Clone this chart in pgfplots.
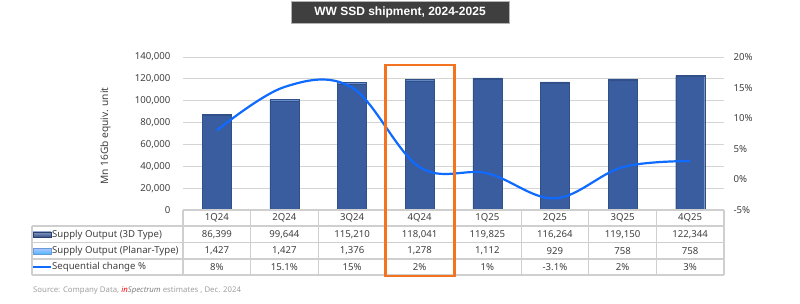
\documentclass[border=0pt]{standalone}
\usepackage{pgfplots}
\pgfplotsset{compat=1.18}
\usepackage{fontspec}
\setmainfont{Noto Sans}
\newfontfamily\titlefont{Liberation Sans}
\definecolor{barblue}{HTML}{3A5DA0}
\definecolor{bartop}{HTML}{6A8DCB}
\definecolor{lineblue}{HTML}{0F6BFF}
\definecolor{gridgray}{HTML}{D4D4D4}
\definecolor{tabgray}{HTML}{CFCFCF}
\definecolor{txt}{HTML}{404040}
\definecolor{orng}{HTML}{F47320}
\definecolor{titlebg}{HTML}{3F3F3F}
\pgfplotstableread{
x d3 planar seq
0 86399 1427 8
1 99644 1427 15.1
2 115210 1376 15
3 118041 1278 2
4 119825 1112 1
5 116264 929 -3.1
6 119150 758 2
7 122344 758 3
}\datatab
\newcommand{\tf}{\fontsize{9.6}{11}\selectfont}
\begin{document}
\begin{tikzpicture}[x=1pt,y=1pt]
\useasboundingbox (0,0) rectangle (800,303);
% title
\node[fill=titlebg, draw=gray!60, text=white, font=\titlefont\bfseries\fontsize{12}{14}\selectfont,
  minimum width=218pt, minimum height=22pt, inner sep=0pt] at (400,{303-12}) {WW SSD shipment, 2024-2025};
% bars axis
\begin{axis}[at={(183pt,93pt)}, anchor=south west, scale only axis,
  width=541pt, height=153pt, xmin=-0.5, xmax=7.5, ymin=0, ymax=140000,
  ybar stacked, bar width=29pt, axis line style={draw=none},
  scaled y ticks=false,
  ytick={0,20000,40000,60000,80000,100000,120000,140000},
  yticklabels={0,{20,000},{40,000},{60,000},{80,000},{100,000},{120,000},{140,000}},
  yticklabel style={font=\tf, text=txt, xshift=-9pt},
  ymajorgrids, grid style={draw=gridgray, line width=0.9pt},
  xtick=\empty, major tick style={draw=none}, clip=false]
\addplot[fill=barblue, draw=barblue!85!black, line width=0.3pt] table[x=x,y=d3]{\datatab};
\addplot[fill=bartop, draw=barblue!85!black, line width=0.3pt] table[x=x,y=planar]{\datatab};
\end{axis}
% line axis
\begin{axis}[at={(183pt,93pt)}, anchor=south west, scale only axis,
  width=541pt, height=153pt, xmin=-0.5, xmax=7.5, ymin=-5, ymax=20,
  axis line style={draw=none}, axis y line*=right, axis x line=none,
  ytick={-5,0,5,10,15,20},
  yticklabels={-5\%,0\%,5\%,10\%,15\%,20\%},
  yticklabel style={font=\tf, text=txt, xshift=6pt},
  xtick=\empty, major tick style={draw=none}, clip=false]
\addplot[lineblue, line width=2.2pt, smooth, tension=0.6] table[x=x,y=seq]{\datatab};
\end{axis}
% y label
\node[rotate=90, font=\fontsize{10.2}{12}\selectfont, text=txt] at (105.5,{303-136}) {Mn 16Gb equiv. unit};
% table grid
\begin{scope}[draw=tabgray, line width=1.1pt]
\draw (183,{303-210}) -- (724,{303-210});
\foreach \yy in {226,242.7,259,275} \draw (32,{303-\yy}) -- (724,{303-\yy});
\draw (32,{303-226}) -- (32,{303-275});
\foreach \k in {0,...,8} \draw ({183+67.625*\k},{303-210}) -- ({183+67.625*\k},{303-275});
\end{scope}
% table text
\foreach \c [count=\i from 0] in {1Q24,2Q24,3Q24,4Q24,1Q25,2Q25,3Q25,4Q25}
  \node[font=\tf, text=txt] at ({183+67.625*(\i+0.5)},{303-218.3}) {\c};
\foreach \c [count=\i from 0] in {86{,}399,99{,}644,115{,}210,118{,}041,119{,}825,116{,}264,119{,}150,122{,}344}
  \node[font=\tf, text=txt] at ({183+67.625*(\i+0.5)},{303-234.6}) {\c};
\foreach \c [count=\i from 0] in {1{,}427,1{,}427,1{,}376,1{,}278,1{,}112,929,758,758}
  \node[font=\tf, text=txt] at ({183+67.625*(\i+0.5)},{303-251}) {\c};
\foreach \c [count=\i from 0] in {8\%,15.1\%,15\%,2\%,1\%,-3.1\%,2\%,3\%}
  \node[font=\tf, text=txt] at ({183+67.625*(\i+0.5)},{303-267.3}) {\c};
% legend cells
\shade[top color=barblue!60, bottom color=barblue!80!black, draw=barblue!70!black, line width=0.3pt] (33,{303-237.5}) rectangle (51,{303-231.8});
\node[anchor=west, font=\tf, text=txt, inner sep=0pt] at (52,{303-234.6}) {Supply Output (3D Type)};
\shade[top color=cyan!25!blue!30!white, bottom color=cyan!60!blue!70, draw=cyan!50!blue!60, line width=0.3pt] (33,{303-254}) rectangle (51,{303-248.3});
\node[anchor=west, font=\tf, text=txt, inner sep=0pt] at (52,{303-251}) {Supply Output (Planar-Type)};
\draw[lineblue, line width=2pt] (33,{303-266.5}) -- (51,{303-266.5});
\node[anchor=west, font=\tf, text=txt, inner sep=0pt] at (52,{303-267.3}) {Sequential change \%};
% highlight
\draw[orng, line width=2.5pt] (385.7,{303-65}) rectangle (454.3,{303-276});
% source
\node[anchor=west, inner sep=0pt, font=\fontsize{7.8}{9}\selectfont, text=gray!75] at (33,{303-291}) {Source: Company Data, {\bfseries\itshape\color{red}in}{\bfseries\itshape\color{gray}Spectrum} estimates , Dec. 2024};
\end{tikzpicture}
\end{document}
